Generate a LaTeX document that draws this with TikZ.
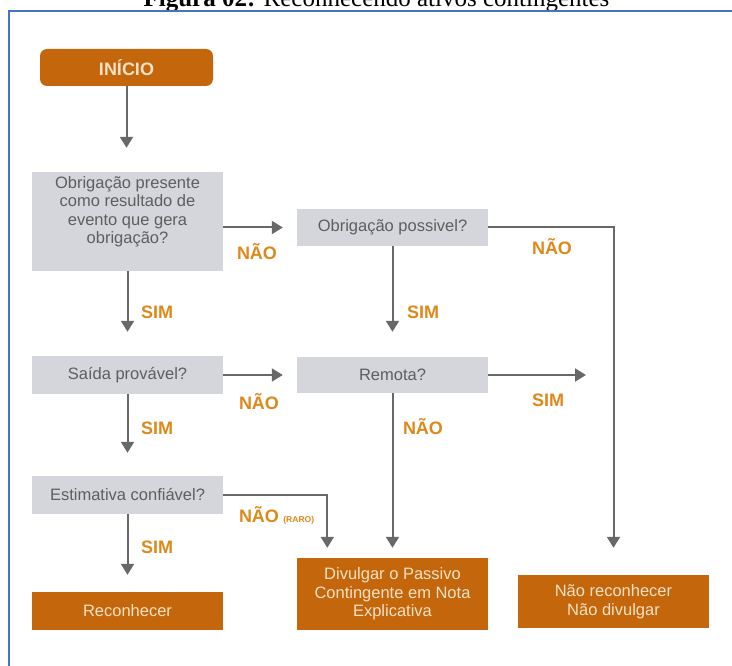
\documentclass[tikz,border=0pt]{standalone}
\usepackage{fontspec}
\setmainfont{Liberation Sans}
\newfontfamily\titlefont{Liberation Serif}
\usetikzlibrary{arrows.meta}
\definecolor{orbox}{HTML}{C4660C}
\definecolor{ortext}{HTML}{F6E2C4}
\definecolor{grbox}{HTML}{D4D6DB}
\definecolor{grtext}{HTML}{5E5E5E}
\definecolor{lbl}{HTML}{DE8819}
\definecolor{arrc}{HTML}{686868}
\definecolor{frame}{HTML}{4472C4}
\tikzset{
  qbox/.style={rectangle, fill=grbox, text=grtext, minimum width=191pt, minimum height=37pt, inner sep=0pt, align=center, font=\fontsize{16.5}{18.5}\selectfont},
  obox/.style={rectangle, fill=orbox, text=ortext, minimum width=191pt, minimum height=38pt, inner sep=0pt, align=center, font=\fontsize{16.5}{18.5}\selectfont},
  arr/.style={draw=arrc, line width=2pt, -{Triangle[width=13pt,length=11pt]}},
  lab/.style={text=lbl, font=\fontsize{18}{20}\selectfont\bfseries, inner sep=0pt},
}
\begin{document}
\begin{tikzpicture}[x=1pt,y=-1pt]
\useasboundingbox (0,0) rectangle (732,666);
% title and frame
\node[anchor=base, inner sep=0pt, font=\titlefont\fontsize{25}{30}\selectfont] (title) at (376.5,7) {\textbf{Figura 02:} Reconhecendo ativos contingentes};
\draw[frame, line width=2pt] (9,800) -- (9,11) -- (800,11);
% nodes
\node[rectangle, rounded corners=7pt, fill=orbox, text=ortext, minimum width=173pt, minimum height=37pt, inner sep=0pt, font=\fontsize{18}{20}\selectfont\bfseries] (inicio) at (126.5,67.5) {INÍCIO};
\node[qbox, minimum height=99pt] (q1) at (127.5,221.5) {\raisebox{9pt}[\height][\depth]{\begin{tabular}{@{}c@{}}Obrigação presente\\como resultado de\\evento que gera\\obrigação?\end{tabular}}};
\node[qbox] (q2) at (392.5,227.5) {Obrigação possivel?};
\node[qbox, minimum height=38pt] (q3) at (127.5,375) {Saída provável?};
\node[qbox, minimum height=36pt] (q4) at (392.5,375) {Remota?};
\node[qbox, minimum height=38pt] (q5) at (127.5,495) {Estimativa confiável?};
\node[obox] (r1) at (127.5,611) {Reconhecer};
\node[obox, minimum height=72pt] (r2) at (392.5,594) {Divulgar o Passivo\\Contingente em Nota\\Explicativa};
\node[obox, minimum height=53pt] (r3) at (613.5,601.5) {Não reconhecer\\Não divulgar};
\coordinate (remsim) at (586,375);
% connectors
\draw[arr, shorten >=24pt] (inicio.south) -- (inicio.south |- q1.north);
\draw[arr, shorten >=24pt] (q1.south) -- (q3.north);
\draw[arr, shorten >=14pt] (q1.east |- q2.west) -- (q2.west);
\draw[arr, shorten >=25pt] (q2.south) -- (q4.north);
\draw[arr, shorten >=27pt] (q2.east) -| (r3.north);
\draw[arr, shorten >=14pt] (q3.east) -- (q4.west);
\draw[arr, shorten >=23pt] (q3.south) -- (q5.north);
\draw[arr] (q4.east) -- (remsim);
\draw[arr, shorten >=10pt] (q4.south) -- (r2.north);
\draw[arr, shorten >=17pt] (q5.south) -- (r1.north);
\draw[arr, shorten >=10pt] (q5.east) -| ([xshift=30.5pt]r2.north west);
% labels
\node[lab] (n1) at (257,252) {NÃO};
\node[lab] (s1) at (157,312) {SIM};
\node[lab] (n2) at (552,247) {NÃO};
\node[lab] (s2) at (423,312) {SIM};
\node[lab] (n3) at (259,402) {NÃO};
\node[lab] (s3) at (548,400) {SIM};
\node[lab] (s4) at (157,428) {SIM};
\node[lab] (n4) at (423,427) {NÃO};
\node[lab] (n5) at (259,515) {NÃO};
\node[lab, anchor=base west, font=\fontsize{8.5}{10}\selectfont\bfseries] (raro) at ([xshift=4pt]n5.base east) {(RARO)};
\node[lab] (s5) at (157,547) {SIM};
\end{tikzpicture}
\end{document}
